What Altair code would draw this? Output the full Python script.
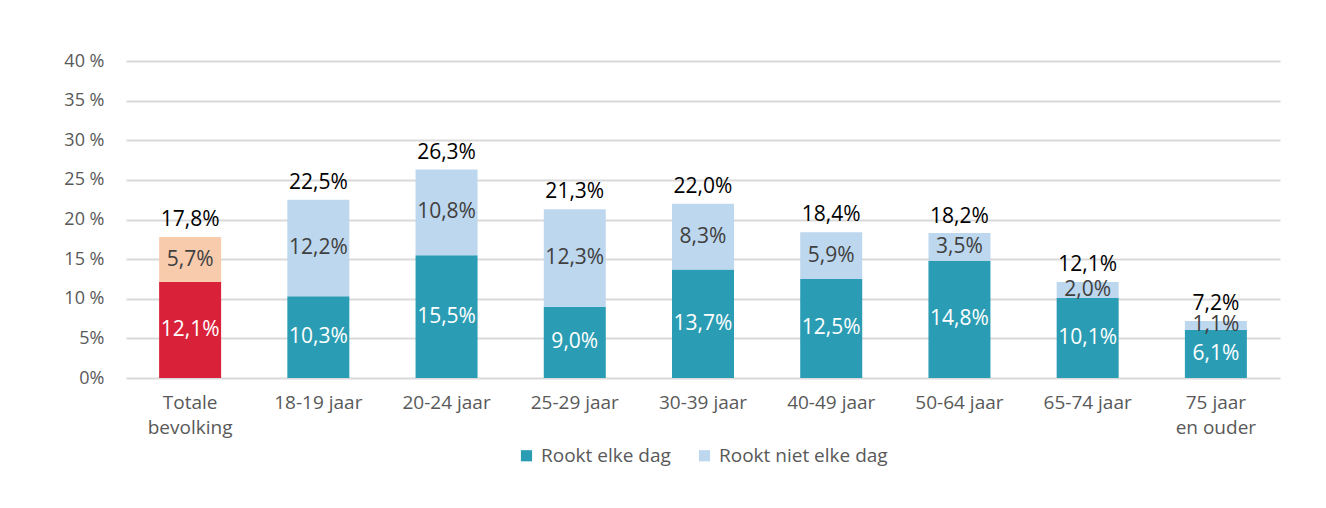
import altair as alt
import pandas as pd

categories = ["Totale|bevolking", "18-19 jaar", "20-24 jaar", "25-29 jaar", "30-39 jaar",
              "40-49 jaar", "50-64 jaar", "65-74 jaar", "75 jaar|en ouder"]
elke_dag = [12.1, 10.3, 15.5, 9.0, 13.7, 12.5, 14.8, 10.1, 6.1]
niet_elke_dag = [5.7, 12.2, 10.8, 12.3, 8.3, 5.9, 3.5, 2.0, 1.1]
totaal = [17.8, 22.5, 26.3, 21.3, 22.0, 18.4, 18.2, 12.1, 7.2]
y_ticks = [0, 5, 10, 15, 20, 25, 30, 35, 40]
series = ["Rookt elke dag", "Rookt niet elke dag"]

rows = []
for i, c in enumerate(categories):
    for j, (s, v) in enumerate(zip(series, [elke_dag[i], niet_elke_dag[i]])):
        key = s if i > 0 else ("Totaal " + s)
        rows.append({"cat": c, "serie": s, "kleur": key, "v": v, "ord": j})
df = pd.DataFrame(rows)
tot_df = pd.DataFrame({"cat": categories, "t": totaal})

FONT = "Open Sans"
color_domain = ["Rookt elke dag", "Rookt niet elke dag", "Totaal Rookt elke dag", "Totaal Rookt niet elke dag"]
color_range = ["#2a9db5", "#bdd7ee", "#d9213a", "#f8cbad"]

x_axis = alt.Axis(labelExpr="split(datum.label, '|')", labelAngle=0, ticks=False,
                  domain=False, labelFontSize=19, labelColor="#595959", labelFont=FONT,
                  labelPadding=15, labelLineHeight=25, labelBaseline="top", grid=False)
ylab = "datum.value >= 10 ? datum.value + ' %' : datum.value + '%'"
y_axis = alt.Axis(values=y_ticks, labelExpr=ylab, ticks=False, labelOverlap=False,
                  domain=False, grid=True, gridColor="#d9d9d9", gridWidth=2, labelFontSize=18,
                  labelColor="#595959", labelFont=FONT, labelPadding=22)
x_scale = alt.Scale(paddingInner=0.5, paddingOuter=0.25)
y_scale = alt.Scale(domain=[0, 40])


def X():
    return alt.X("cat:N", sort=categories, title=None, scale=x_scale, axis=x_axis)


bars = alt.Chart(df).mark_bar(size=62).encode(
    x=X(),
    y=alt.Y("v:Q", stack="zero", title=None, scale=y_scale, axis=y_axis),
    color=alt.Color("kleur:N", scale=alt.Scale(domain=color_domain, range=color_range),
                    legend=alt.Legend(values=series, title=None, orient="none",
                                      legendX=391, legendY=385, direction="horizontal",
                                      symbolType="square", symbolSize=125, symbolStrokeWidth=0,
                                      labelFontSize=19, labelColor="#595959", labelFont=FONT,
                                      labelLimit=400, columnPadding=24, labelOffset=5)),
    order=alt.Order("ord:Q"),
)

fmt = "replace(format(datum.v, '.1f'), '.', ',') + '%'"
seg_text = alt.Chart(df).transform_stack(
    stack="v", groupby=["cat"], as_=["y0", "y1"], sort=[alt.SortField("ord")]
).transform_calculate(
    mid="(datum.y0 + datum.y1) / 2", lab=fmt
).mark_text(fontSize=21, font=FONT, baseline="middle").encode(
    x=X(),
    y=alt.Y("mid:Q", title=None, scale=y_scale, axis=y_axis),
    text="lab:N",
    color=alt.Color("serie:N", scale=alt.Scale(domain=series, range=["#ffffff", "#404040"]), legend=None),
)

tot_text = alt.Chart(tot_df).transform_calculate(
    lab="replace(format(datum.t, '.1f'), '.', ',') + '%'"
).mark_text(fontSize=21, font=FONT, baseline="bottom", dy=-7, color="#000000").encode(
    x=X(),
    y=alt.Y("t:Q", title=None, scale=y_scale, axis=y_axis),
    text="lab:N",
)

chart = alt.layer(bars, seg_text, tot_text).resolve_scale(color="independent").properties(
    width=1154, height=317,
    autosize=alt.AutoSizeParams(type="none"),
    padding={"left": 118, "top": 53, "right": 30, "bottom": 126},
).configure_view(stroke=None)

chart.save("out.html", embed_options={"renderer": "svg", "actions": False})
